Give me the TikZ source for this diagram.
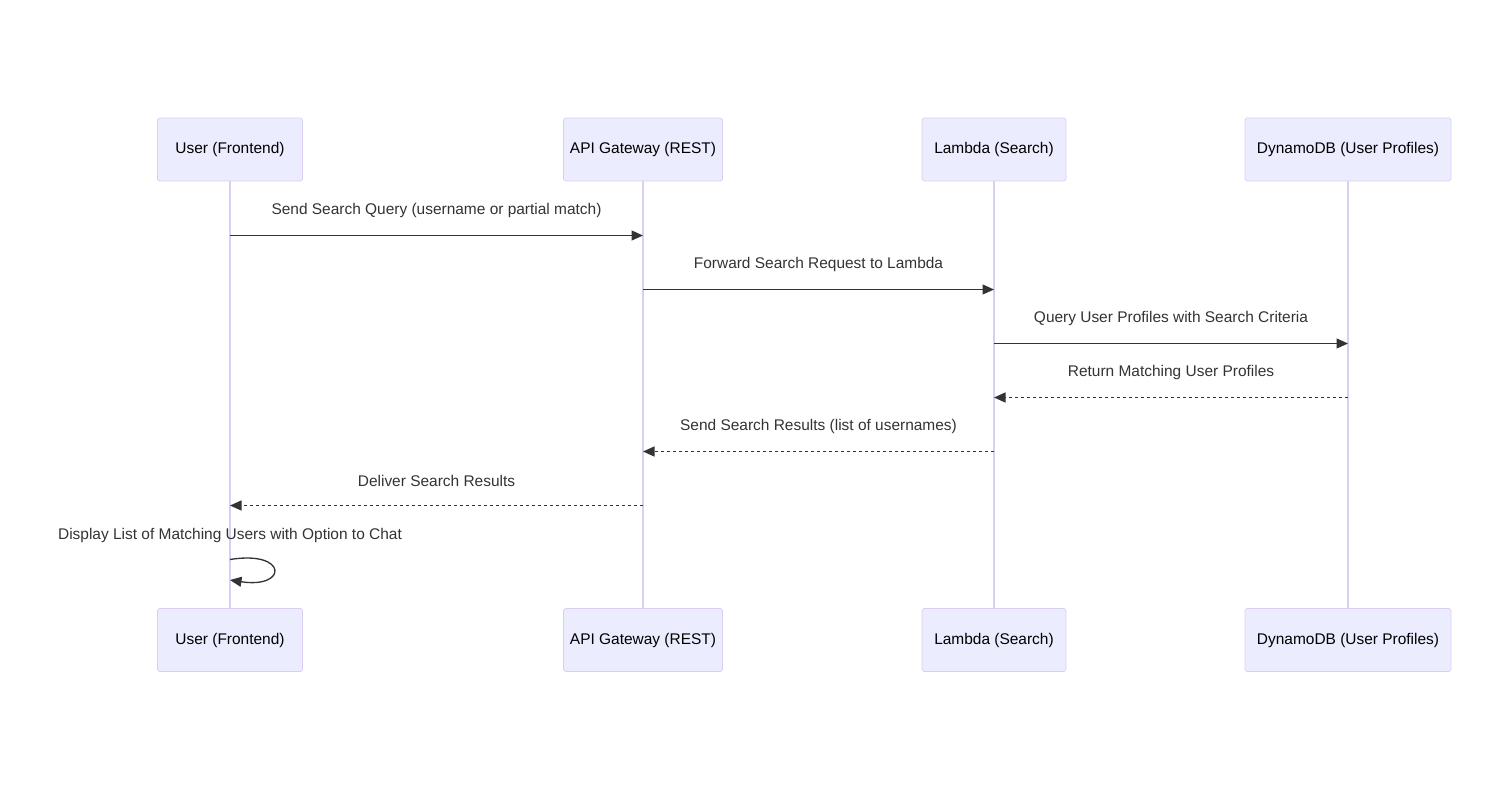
\documentclass[tikz,border=0pt]{standalone}
\usepackage{fontspec}
\setmainfont{Liberation Sans}
\usetikzlibrary{arrows.meta}
\definecolor{actorfill}{HTML}{ECECFF}
\definecolor{actorline}{HTML}{DACEF3}
\definecolor{msggray}{HTML}{333333}
\def\txtsize{\fontsize{8.8}{10.6}\selectfont}
\tikzset{
  actor/.style={draw=actorline, fill=actorfill, rounded corners=1pt, minimum height=1.26cm, inner sep=0pt, font=\txtsize, text=black},
  life/.style={draw=actorline, line width=1pt},
  msg/.style={draw=msggray, line width=0.75pt, -{Triangle[length=0.23cm,width=0.2cm]}},
  reply/.style={msg, dash pattern=on 0.06cm off 0.06cm},
  lbl/.style={text=msggray, font=\txtsize}
}

\begin{document}
\begin{tikzpicture}[x=0.02cm,y=-0.02cm]
\useasboundingbox (0,0) rectangle (1500,791);
% actors, top and bottom
\node[actor, minimum width=2.9cm] (userT) at (230,149.5) {User (Frontend)};
\node[actor, minimum width=3.18cm] (apiT) at (643,149.5) {API Gateway (REST)};
\node[actor, minimum width=2.88cm] (lambdaT) at (994,149.5) {Lambda (Search)};
\node[actor, minimum width=4.12cm] (dynT) at (1348,149.5) {DynamoDB (User Profiles)};
\node[actor, minimum width=2.9cm] (userB) at (230,640) {User (Frontend)};
\node[actor, minimum width=3.18cm] (apiB) at (643,640) {API Gateway (REST)};
\node[actor, minimum width=2.88cm] (lambdaB) at (994,640) {Lambda (Search)};
\node[actor, minimum width=4.12cm] (dynB) at (1348,640) {DynamoDB (User Profiles)};
% lifelines
\draw[life] (userT) -- (userB);
\draw[life] (apiT) -- (apiB);
\draw[life] (lambdaT) -- (lambdaB);
\draw[life] (dynT) -- (dynB);
% message rows
\coordinate (r1) at (0,235.5);
\coordinate (r2) at (0,289.5);
\coordinate (r3) at (0,343.5);
\coordinate (r4) at (0,397.5);
\coordinate (r5) at (0,451.5);
\coordinate (r6) at (0,505.5);
\draw[msg] (userT |- r1) -- (apiT |- r1) node[lbl, midway, yshift=0.5cm] {Send Search Query (username or partial match)};
\draw[msg] (apiT |- r2) -- (lambdaT |- r2) node[lbl, midway, yshift=0.5cm] {Forward Search Request to Lambda};
\draw[msg] (lambdaT |- r3) -- (dynT |- r3) node[lbl, midway, yshift=0.5cm] {Query User Profiles with Search Criteria};
\draw[reply] (dynT |- r4) -- (lambdaT |- r4) node[lbl, midway, yshift=0.5cm] {Return Matching User Profiles};
\draw[reply] (lambdaT |- r5) -- (apiT |- r5) node[lbl, midway, yshift=0.5cm] {Send Search Results (list of usernames)};
\draw[reply] (apiT |- r6) -- (userT |- r6) node[lbl, midway, yshift=0.5cm] {Deliver Search Results};
% self message
\coordinate (selfA) at (230,559.5);
\coordinate (selfB) at (230,580);
\node[lbl] (selfL) at (230,535.5) {Display List of Matching Users with Option to Chat};
\draw[msg] (selfA) .. controls (288,550) and (288,589) .. (selfB);
\end{tikzpicture}
\end{document}
